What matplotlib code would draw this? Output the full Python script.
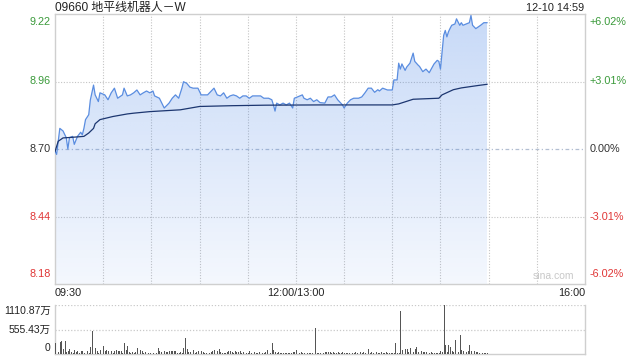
import numpy as np
import matplotlib
matplotlib.use("Agg")
import matplotlib.pyplot as plt
from matplotlib.patches import Polygon

plt.rcParams['font.family'] = ['Liberation Sans', 'Noto Sans CJK SC', 'DejaVu Sans']

# ---- data ----
title = "09660 地平线机器人－W"
stamp = "12-10 14:59"
prev_close = 8.70
pct_range = 0.0602

price_minutes = [0, 1, 3, 5, 7, 8, 9, 11, 12, 14, 16, 17, 18, 19, 21, 22, 24, 25, 27, 28,
                 31, 33, 35, 37, 39, 42, 43, 45, 47, 49, 51, 53, 55, 57, 59, 61, 62, 65, 68, 71,
                 73, 75, 77, 79, 80, 82, 84, 86, 89, 91, 93, 95, 99, 101, 103, 105, 107, 109, 111, 113,
                 115, 117, 119, 121, 123, 126, 128, 130, 133, 135, 136, 137, 138, 140, 142, 144, 146, 148, 149, 151,
                 154, 155, 157, 159, 161, 163, 165, 168, 170, 172, 174, 176, 179, 180, 182, 184, 186, 189, 191, 193,
                 195, 197, 199, 201, 202, 204, 207, 209, 210, 211, 213, 214, 215, 216, 218, 219, 221, 223, 224, 226,
                 227, 229, 231, 233, 236, 238, 239, 240, 242, 243, 244, 245, 246, 247, 249, 250, 252, 253, 254, 256,
                 258, 259, 260, 262, 265, 267, 269]
prices = [8.692, 8.679, 8.78, 8.77, 8.744, 8.70, 8.744, 8.749, 8.718, 8.749, 8.765, 8.755, 8.78, 8.814, 8.833, 8.89, 8.948, 8.91, 8.884, 8.918,
          8.91, 8.891, 8.918, 8.936, 8.897, 8.91, 8.936, 8.906, 8.91, 8.918, 8.929, 8.91, 8.918, 8.925, 8.918, 8.925, 8.906, 8.897, 8.859, 8.878,
          8.897, 8.91, 8.897, 8.936, 8.961, 8.955, 8.94, 8.936, 8.936, 8.91, 8.91, 8.91, 8.936, 8.91, 8.906, 8.918, 8.897, 8.906, 8.91, 8.906,
          8.897, 8.906, 8.906, 8.897, 8.906, 8.906, 8.906, 8.897, 8.897, 8.891, 8.871, 8.847, 8.878, 8.871, 8.878, 8.871, 8.878, 8.859, 8.897, 8.902,
          8.91, 8.897, 8.891, 8.897, 8.884, 8.891, 8.88, 8.878, 8.902, 8.902, 8.91, 8.891, 8.871, 8.859, 8.878, 8.891, 8.897, 8.897, 8.902, 8.918,
          8.936, 8.936, 8.92, 8.93, 8.925, 8.936, 8.929, 8.929, 8.929, 8.968, 8.968, 9.033, 9.01, 9.03, 9.005, 9.018, 9.033, 9.072, 9.04, 9.026,
          9.02, 9.00, 9.01, 8.996, 9.03, 9.044, 9.04, 9.01, 9.141, 9.16, 9.135, 9.155, 9.168, 9.18, 9.185, 9.205, 9.18, 9.19, 9.18, 9.185,
          9.19, 9.218, 9.18, 9.167, 9.18, 9.19, 9.19]

avg_minutes = [0, 2, 5, 10, 18, 21, 24, 25, 28, 36, 45, 49, 59, 78, 90, 110, 131, 165, 210, 214, 223, 239, 241, 248, 253, 263, 269]
avg_prices = [8.69, 8.73, 8.743, 8.745, 8.749, 8.762, 8.78, 8.798, 8.814, 8.826, 8.836, 8.839, 8.845, 8.852, 8.865, 8.868, 8.870, 8.871,
              8.871, 8.875, 8.893, 8.897, 8.91, 8.93, 8.937, 8.946, 8.951]

# volume per minute, in 万
volume = [250, 60, 40, 270, 290, 110, 290, 40, 60, 110,
          40, 30, 90, 40, 60, 30, 60, 60, 30, 405,
          60, 30, 160, 530, 350, 140, 60, 30, 80, 140,
          180, 60, 80, 60, 100, 60, 30, 60, 80, 75,
          60, 60, 30, 260, 80, 185, 40, 30, 40, 20,
          40, 140, 30, 80, 60, 30, 40, 30, 20, 30,
          10, 30, 40, 30, 140, 60, 40, 30, 60, 40,
          40, 60, 75, 60, 60, 60, 30, 30, 40, 30,
          140, 360, 110, 50, 40, 40, 80, 30, 50, 60,
          50, 60, 40, 30, 30, 30, 20, 40, 60, 80,
          60, 60, 110, 40, 30, 30, 20, 40, 60, 60,
          40, 30, 60, 40, 40, 60, 30, 40, 30, 30,
          30, 60, 30, 100, 40, 30, 30, 40, 30, 30,
          30, 40, 100, 40, 30, 260, 80, 40, 30, 40,
          20, 20, 30, 30, 30, 30, 30, 30, 40, 40,
          80, 40, 30, 40, 30, 30, 30, 30, 30, 30,
          30, 30, 600, 30, 30, 30, 30, 30, 40, 40,
          40, 40, 30, 40, 30, 30, 40, 30, 30, 40,
          30, 30, 30, 30, 40, 30, 30, 40, 30, 30,
          40, 30, 40, 30, 30, 110, 30, 40, 30, 30,
          40, 30, 30, 40, 30, 30, 40, 30, 30, 20,
          30, 30, 250, 30, 30, 975, 100, 40, 120, 120,
          40, 130, 225, 40, 120, 170, 40, 100, 60, 40,
          40, 40, 30, 30, 40, 30, 30, 30, 30, 30,
          60, 40, 1110, 210, 40, 210, 150, 60, 40, 320,
          60, 40, 435, 100, 60, 60, 40, 60, 210, 60,
          40, 60, 40, 40, 30, 30, 30, 30, 20, 20]
vol_max = 1110.87
vol_labels = ["1110.87万", "555.43万", "0"]

price_labels = ["9.22", "8.96", "8.70", "8.44", "8.18"]
pct_labels = ["+6.02%", "+3.01%", "0.00%", "-3.01%", "-6.02%"]
time_labels = ["09:30", "12:00/13:00", "16:00"]
total_minutes = 330

# ---- figure ----
W, H = 640, 360
fig = plt.figure(figsize=(6.4, 3.6), dpi=100)
L, R = 55, 585
ax = fig.add_axes([L / W, (H - 284) / H, (R - L) / W, 270 / H])
axv = fig.add_axes([L / W, (H - 354) / H, (R - L) / W, 49 / H])

ymin = prev_close * (1 - pct_range)
ymax = prev_close * (1 + pct_range)
ax.set_xlim(0, total_minutes)
ax.set_ylim(ymin, ymax)

grid_kw = dict(color='#c4c4c4', lw=0.8, linestyle=(0, (1, 1.5)), zorder=1)
for m in range(30, total_minutes, 30):
    ax.axvline(m, **grid_kw)
levels = [ymax, prev_close * (1 + pct_range / 2), prev_close,
          prev_close * (1 - pct_range / 2), ymin]
for lv in levels[1:4]:
    if lv == prev_close:
        ax.axhline(lv, color='#b3bfd2', lw=0.9, linestyle=(0, (3, 2, 1, 2)), zorder=1)
    else:
        ax.axhline(lv, **grid_kw)

# gradient fill under price line
pm = np.array(price_minutes, dtype=float)
pp = np.array(prices, dtype=float)
verts = np.vstack([np.column_stack([pm, pp]), [[pm[-1], ymin], [pm[0], ymin]]])
poly = Polygon(verts, closed=True, facecolor='none', edgecolor='none')
ax.add_patch(poly)
grad = np.zeros((256, 2, 4))
base = np.array([70, 130, 230]) / 255.0
grad[..., 0] = base[0]
grad[..., 1] = base[1]
grad[..., 2] = base[2]
alpha = np.linspace(0.30, 0.06, 256)
grad[..., 3] = alpha[:, None]
im = ax.imshow(grad, extent=[pm[0], pm[-1], ymin, ymax], origin='upper',
               aspect='auto', zorder=2, interpolation='bilinear')
im.set_clip_path(poly)

ax.plot(pm, pp, color='#5a8de0', lw=0.9, zorder=3)
ax.plot(avg_minutes, avg_prices, color='#1c3670', lw=0.9, zorder=3)

for s in ax.spines.values():
    s.set_color('#cfcfcf')
    s.set_linewidth(1.0)
ax.set_xticks([])
ax.set_yticks([])

green, red, black = '#3a9a3a', '#e03535', '#333333'
cols = [green, green, black, red, red]
vas = ['top', 'center', 'center', 'center', 'bottom']
offs = [-2.5, 0, 0, 0, 3.5]
for lv, pl, ql, c, va, o in zip(levels, price_labels, pct_labels, cols, vas, offs):
    ax.annotate(pl, xy=(0, lv), xycoords=('axes fraction', 'data'), xytext=(-3, o),
                textcoords='offset points', ha='right', va=va, fontsize=7.8, color=c)
    ax.annotate(ql, xy=(1, lv), xycoords=('axes fraction', 'data'), xytext=(3.5, o),
                textcoords='offset points', ha='left', va=va, fontsize=7.8, color=c)

fig.text(L / W, 1 - 11 / H, title, ha='left', va='baseline', fontsize=8.6, color='#222222')
fig.text(584 / W, 1 - 11 / H, stamp, ha='right', va='baseline', fontsize=7.8, color='#222222')

tl_y = 1 - 293 / H
fig.text(L / W, tl_y, time_labels[0], ha='left', va='center', fontsize=7.8, color='#222222')
fig.text((L + (R - L) * 150 / total_minutes) / W, tl_y, time_labels[1], ha='center', va='center',
         fontsize=7.8, color='#222222')
fig.text(R / W, tl_y, time_labels[2], ha='right', va='center', fontsize=7.8, color='#222222')

ax.text(0.98, 0.012, "sina.com", transform=ax.transAxes, ha='right', va='bottom',
        fontsize=7.5, color='#c8c8c8')

# volume
axv.set_xlim(0, total_minutes)
axv.set_ylim(0, vol_max)
axv.bar(np.arange(len(volume)), volume, width=0.55, color='#555555', align='edge', zorder=3)
for lv in [vol_max, vol_max / 2]:
    axv.axhline(lv, color='#c9c9c9', lw=0.9, linestyle=(0, (1, 1.5)), zorder=1)
axv.set_xticks([])
axv.set_yticks([])
axv.spines['top'].set_visible(False)
for k in ['left', 'right', 'bottom']:
    axv.spines[k].set_color('#cfcfcf')
    axv.spines[k].set_linewidth(1.0)
vvas = ['top', 'center', 'bottom']
voffs = [-1, 0, 1]
for lv, lab, va, o in zip([vol_max, vol_max / 2, 0], vol_labels, vvas, voffs):
    axv.annotate(lab, xy=(0, lv), xycoords=('axes fraction', 'data'), xytext=(-3, o),
                 textcoords='offset points', ha='right', va=va, fontsize=7.5, color='#222222')

fig.savefig("out.png", dpi=100)
